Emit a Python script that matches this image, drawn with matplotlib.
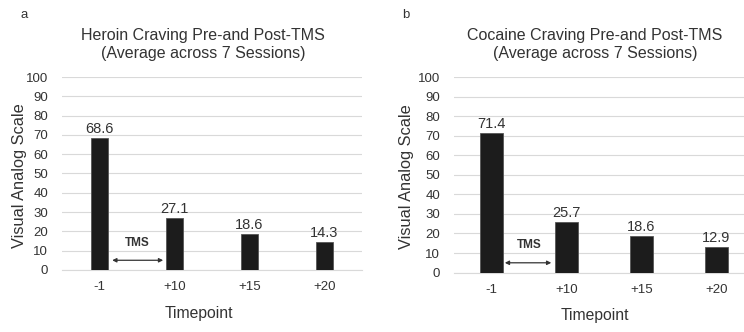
import matplotlib.pyplot as plt
import numpy as np

plt.rcParams['font.family'] = ['Liberation Sans', 'DejaVu Sans']

timepoints = ["-1", "+10", "+15", "+20"]
heroin = [68.6, 27.1, 18.6, 14.3]
cocaine = [71.4, 25.7, 18.6, 12.9]
titles = ["Heroin Craving Pre-and Post-TMS\n(Average across 7 Sessions)",
          "Cocaine Craving Pre-and Post-TMS\n(Average across 7 Sessions)"]
letters = ["a", "b"]

fig = plt.figure(figsize=(7.44, 3.32), dpi=100)
ax1 = fig.add_axes([0.0833, 0.187, 0.403, 0.581])
ax2 = fig.add_axes([0.610, 0.179, 0.403, 0.589])

panels = [(ax1, heroin, 0.23, (0.17, 0.85), 0.51, -0.14, 0.457),
          (ax2, cocaine, 0.31, (0.18, 0.80), 0.50, -0.157, 0.47)]

for k, (ax, vals, bw, arr, tx, ylx, xlx) in enumerate(panels):
    x = np.arange(len(vals))
    ax.bar(x, vals, width=bw, color='#1c1c1c', edgecolor='#555555', linewidth=0.6, zorder=3)
    for xi, v in zip(x, vals):
        ax.text(xi, v + 1.0, f'{v:.1f}', ha='center', va='bottom', fontsize=10.5, color='#333333')
    ax.set_xlim(-0.5, 3.5)
    ax.set_ylim(0, 100)
    ax.set_yticks(range(0, 101, 10))
    ax.set_xticks(x)
    ax.set_xticklabels(timepoints)
    ax.tick_params(axis='both', length=0, labelsize=9.5, labelcolor='#333333')
    ax.tick_params(axis='y', pad=10)
    ax.tick_params(axis='x', pad=8)
    ax.grid(axis='y', color='#d9d9d9', linewidth=0.8, zorder=0)
    for s in ['top', 'right', 'left']:
        ax.spines[s].set_visible(False)
    ax.spines['bottom'].set_color('#d9d9d9')
    ax.set_ylabel("Visual Analog Scale", fontsize=11.8, color='#333333', va='center')
    ax.yaxis.set_label_coords(ylx, 0.49)
    ax.set_xlabel("Timepoint", fontsize=11.3, color='#333333', labelpad=9, x=xlx)
    ax.set_title(titles[k], fontsize=11.5, color='#333333', pad=14, x=0.47)
    ax.annotate('', xy=(arr[0], 5), xytext=(arr[1], 5),
                arrowprops=dict(arrowstyle='<|-|>', color='#333333', lw=0.9,
                                mutation_scale=6, shrinkA=0, shrinkB=0))
    ax.text(tx, 14, 'TMS', ha='center', va='center', fontsize=8.5, fontweight='bold', color='#333333')

fig.text(0.027, 0.955, letters[0], fontsize=9.5, color='#333333', va='center')
fig.text(0.541, 0.955, letters[1], fontsize=9.5, color='#333333', va='center')

fig.savefig('out.png', dpi=100)
